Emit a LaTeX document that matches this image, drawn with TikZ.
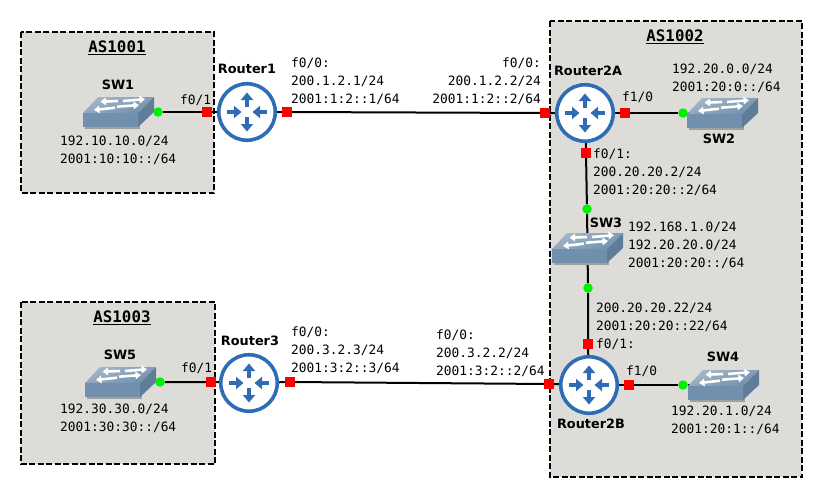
\documentclass[tikz,border=0pt]{standalone}
\usepackage{fontspec}
\usetikzlibrary{arrows.meta,calc}
\newfontfamily\monof{DejaVu Sans Mono}
\newfontfamily\sansb{DejaVu Sans}[BoldFont={DejaVu Sans Bold}]
\definecolor{asfill}{HTML}{DDDCD9}
\definecolor{rblue}{HTML}{2E6DB6}
\definecolor{portred}{HTML}{FF0000}
\definecolor{dotgreen}{HTML}{00F000}
\definecolor{swtopa}{HTML}{A5B8C8}
\definecolor{swtopb}{HTML}{6E8FAE}
\definecolor{swfront}{HTML}{7090AE}
\definecolor{swside}{HTML}{5F7C98}
\definecolor{swshadow}{HTML}{A0A0A0}
\pgfdeclarelayer{bg}
\pgfdeclarelayer{lines}
\pgfsetlayers{bg,lines,main}
\tikzset{
  asbox/.style={draw=black,fill=asfill,line width=2pt,dash pattern=on 6pt off 2.5pt},
  link/.style={draw=black,line width=2pt},
  portnode/.style={rectangle,fill=portred,minimum size=10pt,inner sep=0pt,outer sep=0pt},
  dotnode/.style={circle,fill=dotgreen,minimum size=9.5pt,inner sep=0pt,outer sep=0pt},
  routernode/.style={circle,draw=rblue,fill=white,line width=3.6pt,minimum size=56.5pt,inner sep=0pt,outer sep=1.8pt},
  rarrow/.style={draw=rblue,line width=3.6pt,-{Triangle[length=7.5pt,width=12pt]}},
  addr/.style={font=\monof\fontsize{12.85}{18}\selectfont,inner sep=0pt,anchor=north west,align=left},
  addrr/.style={font=\monof\fontsize{12.85}{18}\selectfont,inner sep=0pt,anchor=north east,align=right},
  devname/.style={font=\sansb\bfseries\fontsize{12.85}{15}\selectfont,inner sep=0pt},
  astitle/.style={font=\monof\bfseries\fontsize{15.8}{18}\selectfont,inner sep=0pt},
  swarrow/.style={draw=white,line width=2.6pt,-{Triangle[length=5.5pt,width=7.5pt]}},
  switchicon/.pic={
    \fill[swshadow] (1.5,18) -- (56.5,18) -- (56.5,31.5) -- (1.5,31.5) -- cycle;
    \shade[bottom color=swtopb,top color=swtopa,shading angle=20]
       (0,16) -- (15,0) -- (71,0) -- (55,16) -- cycle;
    \fill[swfront] (0,16) -- (55,16) -- (55,30) -- (0,30) -- cycle;
    \fill[swside] (55,16) -- (71,0) -- (71,15) -- (55,30) -- cycle;
    \draw[swarrow] (35,4) -- (17.5,4.7);
    \draw[swarrow] (40,4) -- (62,2.2);
    \draw[swarrow] (32,10.7) -- (11,13);
    \draw[swarrow] (34,9.7) -- (56,8);
    \node[inner sep=0pt,minimum width=71pt,minimum height=30pt] (-n) at (35.5,15) {};
  }
}
\newcommand{\routerarrows}[1]{%
  \draw[rarrow] ($(#1)+(0,-5)$) -- ($(#1)+(0,-19.5)$);
  \draw[rarrow] ($(#1)+(0,5)$) -- ($(#1)+(0,19.5)$);
  \draw[rarrow] ($(#1)+(-20,0)$) -- ($(#1)+(-5.5,0)$);
  \draw[rarrow] ($(#1)+(20,0)$) -- ($(#1)+(5.5,0)$);
}
\begin{document}
\begin{tikzpicture}[x=1pt,y=-1pt]
\useasboundingbox (0,0) rectangle (823,498);
\begin{pgfonlayer}{bg}
  \fill[white] (0,0) rectangle (823,498);
  \draw[asbox] (21,32) rectangle (214,193);
  \draw[asbox] (550,21) rectangle (802,477);
  \draw[asbox] (21,302) rectangle (215,464);
\end{pgfonlayer}

% switches
\pic (sw1) at (83,97) {switchicon};
\pic (sw2) at (687,98) {switchicon};
\pic (sw3) at (552,233) {switchicon};
\pic (sw4) at (688,370) {switchicon};
\pic (sw5) at (85,367) {switchicon};

% routers
\node[routernode] (r1) at (247,112) {};
\node[routernode] (r2a) at (585,113) {};
\node[routernode] (r2b) at (589,385) {};
\node[routernode] (r3) at (249,383) {};
\routerarrows{r1}
\routerarrows{r2a}
\routerarrows{r2b}
\routerarrows{r3}

% ports
\node[portnode] (p1l) at (207,112) {};
\node[portnode] (p1r) at (287,112) {};
\node[portnode] (p2al) at (545,113) {};
\node[portnode] (p2ar) at (625,113) {};
\node[portnode] (p2ab) at (586,153) {};
\node[portnode] (p2bl) at (549,384) {};
\node[portnode] (p2br) at (629,385) {};
\node[portnode] (p2bt) at (588,344) {};
\node[portnode] (p3l) at (211,382) {};
\node[portnode] (p3r) at (290,382) {};

% link ends at switches
\node[dotnode] (d1) at (158,112) {};
\node[dotnode] (d2) at (683,113) {};
\node[dotnode] (d3a) at (587,209) {};
\node[dotnode] (d3b) at (588,288) {};
\node[dotnode] (d4) at (683,385) {};
\node[dotnode] (d5) at (160,382) {};

\begin{pgfonlayer}{lines}
  \draw[link] (d1) ++(-6,0) -- (d1) -- (p1l) -- (r1);
  \draw[link] (r1) -- (p1r) -- (p2al) -- (r2a);
  \draw[link] (r2a) -- (p2ar) -- (d2) -- ++(8,0);
  \draw[link] (r2a) -- (p2ab) -- (d3a) -- (sw3-n) -- (d3b) -- (p2bt) -- (r2b);
  \draw[link] (r2b) -- (p2br) -- (d4) -- ++(8,0);
  \draw[link] (d5) ++(-6,0) -- (d5) -- (p3l) -- (r3);
  \draw[link] (r3) -- (p3r) -- (p2bl) -- (r2b);
\end{pgfonlayer}

% titles
\node[astitle] (t1) at (117,48) {\underline{AS1001}};
\node[astitle] (t2) at (675,37) {\underline{AS1002}};
\node[astitle] (t3) at (122,318) {\underline{AS1003}};

% device names
\node[devname] (n1) at (247,69) {Router1};
\node[devname] (n2a) at (588,71) {Router2A};
\node[devname] (n2b) at (591,424) {Router2B};
\node[devname] (n3) at (250,341) {Router3};
\node[devname] (ns1) at (118,85) {SW1};
\node[devname] (ns2) at (719,139) {SW2};
\node[devname] (ns3) at (606,223) {SW3};
\node[devname] (ns4) at (723,357) {SW4};
\node[devname] (ns5) at (120,355) {SW5};

% addresses
\node[addr] (a1) at (180,95) {f0/1};
\node[addr] (a2) at (60,136) {192.10.10.0/24\\2001:10:10::/64};
\node[addr] (a3) at (291,58) {f0/0:\\200.1.2.1/24\\2001:1:2::1/64};
\node[addrr] (a4) at (541,58) {f0/0:\\200.1.2.2/24\\2001:1:2::2/64};
\node[addr] (a5) at (622,92) {f1/0};
\node[addr] (a6) at (672,64) {192.20.0.0/24\\2001:20:0::/64};
\node[addr] (a7) at (593,149) {f0/1:\\200.20.20.2/24\\2001:20:20::2/64};
\node[addr] (a8) at (628,222) {192.168.1.0/24\\192.20.20.0/24\\2001:20:20::/64};
\node[addr] (a9) at (596,303) {200.20.20.22/24\\2001:20:20::22/64\\f0/1:};
\node[addr] (a10) at (626,366) {f1/0};
\node[addr] (a11) at (671,406) {192.20.1.0/24\\2001:20:1::/64};
\node[addr] (a12) at (181,363) {f0/1};
\node[addr] (a13) at (60,404) {192.30.30.0/24\\2001:30:30::/64};
\node[addr] (a14) at (291,327) {f0/0:\\200.3.2.3/24\\2001:3:2::3/64};
\node[addr] (a15) at (436,330) {f0/0:\\200.3.2.2/24\\2001:3:2::2/64};
\end{tikzpicture}
\end{document}
